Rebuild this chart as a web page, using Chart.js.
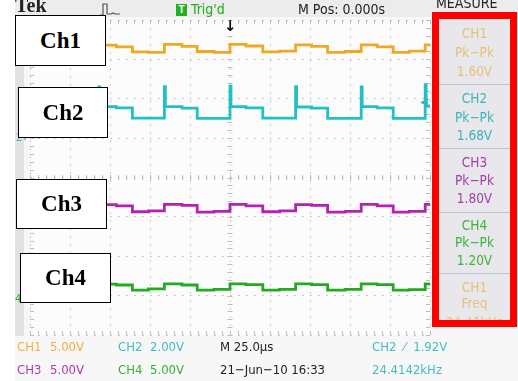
<!DOCTYPE html>
<html>
<head>
<meta charset="utf-8">
<script src="https://cdn.jsdelivr.net/npm/chart.js@4/dist/chart.umd.min.js"></script>
<style>
  html, body { margin:0; padding:0; background:#ffffff; }
  #wrap { position:relative; width:518px; height:381px; overflow:hidden; background:#ffffff; }
  #screen { position:absolute; left:15px; top:0; width:503px; height:381px; background:#f7f7f7; }
  #topbar { position:absolute; left:15px; top:0; width:503px; height:17px; background:#ececec; }
  #strip { position:absolute; left:15px; top:20px; width:9px; height:316px; background:#e2e2e2; }
  canvas { position:absolute; left:0; top:0; }
  .t { position:absolute; white-space:nowrap; font-family:'Liberation Sans Narrow','DejaVu Sans Condensed','Liberation Sans',sans-serif; font-size:13px; line-height:14px; }
  .box { position:absolute; background:#fff; border:1.5px solid #000; box-sizing:border-box;
         font-family:'Liberation Serif','Times New Roman',serif; font-weight:bold; font-size:23px;
         display:flex; align-items:center; justify-content:center; color:#000; }
  #panel { position:absolute; left:432px; top:12px; width:85px; height:315px; background:#e8e8ec; }
  #redbox { position:absolute; left:432px; top:12px; width:85px; height:315px; border:7px solid #ff0000; box-sizing:border-box; }
  .sep { position:absolute; left:439px; width:71px; height:1px; background:#c4c4cc; }
  .m { position:absolute; left:439px; width:71px; text-align:center; white-space:nowrap;
       font-family:'Liberation Sans Narrow','DejaVu Sans Condensed','Liberation Sans',sans-serif; font-size:13.5px; line-height:14px; }
</style>
</head>
<body>
<div id="wrap">
  <div id="screen"></div>
  <div id="topbar"></div>
  <div id="strip"></div>
  <canvas id="c" width="518" height="381"></canvas>

  <!-- top bar -->
  <div class="t" style="left:15px;top:-5px;font-family:'Liberation Serif',serif;font-weight:bold;font-size:20px;line-height:20px;color:#222;">Tek</div>
  <svg style="position:absolute;left:99px;top:2px" width="22" height="15"><polyline points="1,13 4,13 4,2 8,2 8,12 12,12 14,11 16,12 21,12" fill="none" stroke="#555" stroke-width="1.2"/></svg>
  <div style="position:absolute;left:176px;top:4px;width:11px;height:12px;background:#22b022;color:#fff;font:bold 10px 'Liberation Sans',sans-serif;line-height:12px;text-align:center;">T</div>
  <div class="t" style="left:191px;top:2px;color:#22a822;font-size:14px;">Trig'd</div>
  <div class="t" style="left:298px;top:2px;color:#222;font-size:14px;">M Pos: 0.000s</div>
  <div class="t" style="left:436px;top:-4px;color:#222;font-size:14px;">MEASURE</div>
  <div class="t" style="left:224px;top:19px;color:#111;font-size:15px;font-weight:bold;font-family:'DejaVu Sans',sans-serif;">↓</div>

  <!-- left markers -->
  <div class="t" style="left:16px;top:131px;color:#30b8c0;font-size:11px;">2↗</div>
  <div class="t" style="left:15px;top:292px;color:#30a830;font-size:11px;">4</div>
  <div class="t" style="left:420px;top:95px;color:#30b8c0;font-size:10px;font-family:'DejaVu Sans',sans-serif;">◀</div>

  <!-- channel label boxes -->
  <div class="box" style="left:15px;top:15px;width:91px;height:51px;">Ch1</div>
  <div class="box" style="left:18px;top:87px;width:90px;height:51px;">Ch2</div>
  <div class="box" style="left:16px;top:179px;width:91px;height:50px;">Ch3</div>
  <div class="box" style="left:20px;top:253px;width:91px;height:50px;">Ch4</div>

  <!-- measure panel -->
  <div id="panel"></div>
  <div class="sep" style="top:84px"></div>
  <div class="sep" style="top:148px"></div>
  <div class="sep" style="top:212px"></div>
  <div class="sep" style="top:273px"></div>
  <div class="m" style="top:26px;color:#e8c07a;">CH1</div>
  <div class="m" style="top:45px;color:#e8c07a;">Pk−Pk</div>
  <div class="m" style="top:64px;color:#e8c07a;">1.60V</div>
  <div class="m" style="top:91px;color:#3cb4bc;">CH2</div>
  <div class="m" style="top:110px;color:#3cb4bc;">Pk−Pk</div>
  <div class="m" style="top:128px;color:#3cb4bc;">1.68V</div>
  <div class="m" style="top:155px;color:#a43cac;">CH3</div>
  <div class="m" style="top:173px;color:#a43cac;">Pk−Pk</div>
  <div class="m" style="top:191px;color:#a43cac;">1.80V</div>
  <div class="m" style="top:218px;color:#3cb43c;">CH4</div>
  <div class="m" style="top:235px;color:#3cb43c;">Pk−Pk</div>
  <div class="m" style="top:253px;color:#3cb43c;">1.20V</div>
  <div class="m" style="top:280px;color:#e8c07a;">CH1</div>
  <div class="m" style="top:296px;color:#e8c07a;">Freq</div>
  <div class="m" style="top:315px;color:#e8c07a;">24.41kHz</div>
  <div id="redbox"></div>

  <!-- bottom readouts -->
  <div class="t" style="left:17px;top:340px;color:#f0b040;">CH1</div>
  <div class="t" style="left:50px;top:340px;color:#f0b040;">5.00V</div>
  <div class="t" style="left:118px;top:340px;color:#44bcc4;">CH2</div>
  <div class="t" style="left:150px;top:340px;color:#44bcc4;">2.00V</div>
  <div class="t" style="left:220px;top:340px;color:#222;">M 25.0µs</div>
  <div class="t" style="left:372px;top:340px;color:#44bcc4;">CH2 &nbsp;⁄ &nbsp;1.92V</div>
  <div class="t" style="left:17px;top:363px;color:#b038b0;">CH3</div>
  <div class="t" style="left:50px;top:363px;color:#b038b0;">5.00V</div>
  <div class="t" style="left:118px;top:363px;color:#38b038;">CH4</div>
  <div class="t" style="left:150px;top:363px;color:#38b038;">5.00V</div>
  <div class="t" style="left:220px;top:363px;color:#222;">21−Jun−10 16:33</div>
  <div class="t" style="left:372px;top:363px;color:#44bcc4;">24.4142kHz</div>
</div>

<script>
// Time axis (µs, 25 µs/div, trigger at 0) and vertical axis (divisions)
const timeTicks = [-125, -100, -75, -50, -25, 0, 25, 50, 75, 100, 125];
const divTicks = [-4, -3, -2, -1, 0, 1, 2, 3, 4];

// Channel traces: segment start times (µs) and levels (divisions), stepped
const ch1Time  = [-125, -102, -92, -82, -71, -61, -51, -41, -30, -20.5, -10, 0, 10, 20.5, 31, 41, 51, 61, 72, 82, 92, 102, 112, 122, 125];
const ch1Level = [3.31, 3.19, 3.21, 3.36, 3.32, 3.19, 3.18, 3.38, 3.33, 3.20, 3.18, 3.38, 3.34, 3.19, 3.21, 3.37, 3.33, 3.18, 3.20, 3.37, 3.32, 3.18, 3.21, 3.37, 3.37];

const ch2Time  = [-125, -102, -82, -81.4, -71, -61, -41, -40.4, -30, -20.5, 0, 0.6, 10, 20.5, 41, 41.6, 51, 61, 82, 82.6, 92, 102, 122, 122.6, 125];
const ch2Level = [1.80, 1.51, 2.30, 1.80, 1.77, 1.51, 2.31, 1.80, 1.76, 1.50, 2.32, 1.80, 1.77, 1.51, 2.31, 1.79, 1.76, 1.50, 2.30, 1.80, 1.77, 1.50, 2.36, 1.82, 1.82];

const ch3Time  = [-125, -102, -92, -82, -71, -61, -51, -41, -30, -20.5, -10, 0, 10, 20.5, 31, 41, 51, 61, 72, 82, 92, 102, 112, 122, 125];
const ch3Level = [-0.74, -0.87, -0.85, -0.69, -0.72, -0.87, -0.85, -0.68, -0.71, -0.88, -0.86, -0.68, -0.72, -0.87, -0.85, -0.69, -0.71, -0.88, -0.86, -0.68, -0.72, -0.88, -0.86, -0.68, -0.68];

const ch4Time  = [-125, -102, -92, -82, -71, -61, -51, -41, -30, -20.5, -10, 0, 10, 20.5, 31, 41, 51, 61, 72, 82, 92, 102, 112, 122, 125];
const ch4Level = [-2.74, -2.85, -2.83, -2.71, -2.73, -2.86, -2.83, -2.70, -2.73, -2.86, -2.84, -2.70, -2.72, -2.86, -2.84, -2.70, -2.72, -2.86, -2.84, -2.70, -2.72, -2.86, -2.85, -2.70, -2.70];

function pts(t, v) { return t.map((x, i) => ({ x: x, y: v[i] })); }

const graticule = {
  id: 'graticule',
  beforeDraw(chart) {
    const { ctx, chartArea: a } = chart;
    ctx.save();
    ctx.fillStyle = '#fcfcfc';
    ctx.fillRect(a.left, a.top, a.right - a.left, a.bottom - a.top);
    ctx.restore();
  },
  beforeDatasetsDraw(chart) {
    const { ctx, chartArea: a, scales: { x, y } } = chart;
    const cx = x.getPixelForValue(0), cy = y.getPixelForValue(0);
    ctx.save();
    ctx.strokeStyle = '#bcbcbc';
    ctx.lineWidth = 1;
    ctx.beginPath();
    for (let i = 0; i <= 50; i++) {
      const px = Math.round(x.getPixelForValue(-125 + i * 5)) + 0.5;
      ctx.moveTo(px, a.top); ctx.lineTo(px, a.top + 4);
      ctx.moveTo(px, a.bottom - 4); ctx.lineTo(px, a.bottom);
      ctx.moveTo(px, cy - 2.5); ctx.lineTo(px, cy + 2.5);
    }
    for (let j = 0; j <= 40; j++) {
      const py = Math.round(y.getPixelForValue(-4 + j * 0.2)) + 0.5;
      ctx.moveTo(a.left, py); ctx.lineTo(a.left + 4, py);
      ctx.moveTo(a.right - 4, py); ctx.lineTo(a.right, py);
      ctx.moveTo(cx - 2.5, py); ctx.lineTo(cx + 2.5, py);
    }
    ctx.stroke();
    ctx.restore();
  }
};

const mk = (label, t, v, color) => ({
  label, data: pts(t, v), borderColor: color, borderWidth: 2.8,
  pointRadius: 0, stepped: true, fill: false, tension: 0
});

new Chart(document.getElementById('c'), {
  type: 'line',
  data: {
    datasets: [
      mk('CH1', ch1Time, ch1Level, '#f2a622'),
      mk('CH2', ch2Time, ch2Level, '#22c0c4'),
      mk('CH3', ch3Time, ch3Level, '#b422b4'),
      mk('CH4', ch4Time, ch4Level, '#22aa22')
    ]
  },
  options: {
    responsive: false,
    animation: false,
    layout: { padding: { left: 30, top: 20, right: 88, bottom: 46 } },
    plugins: { legend: { display: false }, tooltip: { enabled: false } },
    scales: {
      x: {
        type: 'linear', min: -125, max: 125,
        afterBuildTicks: s => { s.ticks = timeTicks.map(v => ({ value: v })); },
        ticks: { display: false },
        grid: { color: '#c8c8c8', lineWidth: 1, drawTicks: false },
        border: { display: false, dash: [2, 6] }
      },
      y: {
        type: 'linear', min: -4, max: 4,
        afterBuildTicks: s => { s.ticks = divTicks.map(v => ({ value: v })); },
        ticks: { display: false },
        grid: { color: '#c8c8c8', lineWidth: 1, drawTicks: false },
        border: { display: false, dash: [2, 6] }
      }
    }
  },
  plugins: [graticule]
});
</script>
</body>
</html>
